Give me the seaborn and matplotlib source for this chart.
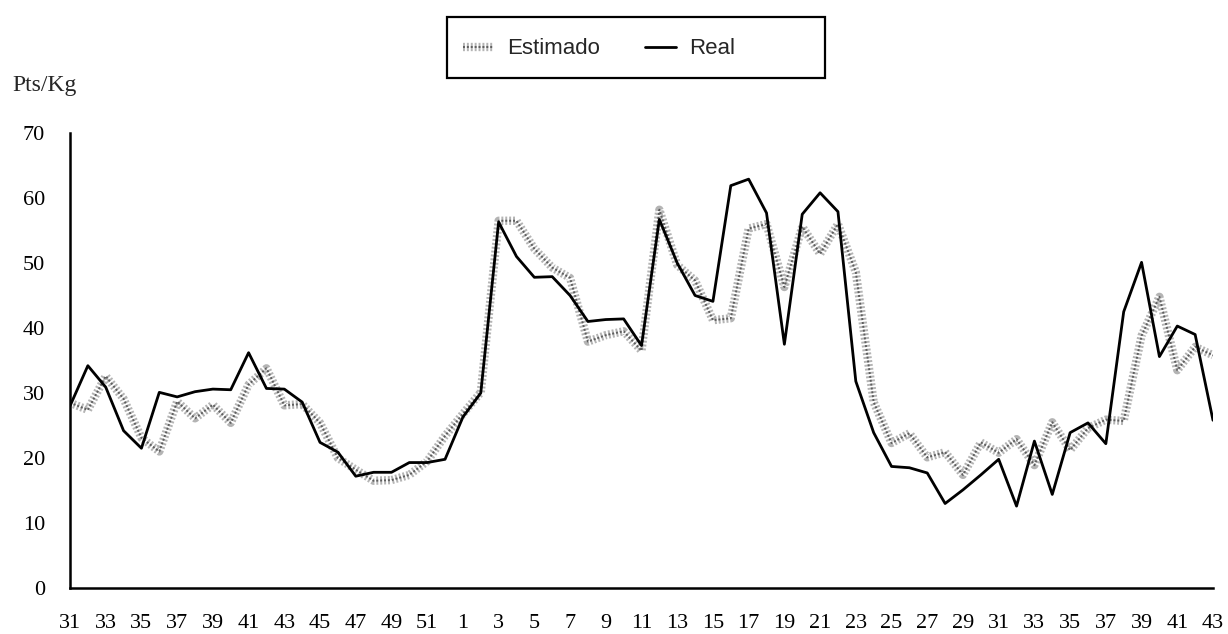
import matplotlib
matplotlib.use('Agg')
import matplotlib.pyplot as plt
import matplotlib.patheffects as pe
from matplotlib.patches import Rectangle
import seaborn as sns
import pandas as pd

# semanas (31 a 52 de un año, 1 a 43 del siguiente)
semanas = [31, 32, 33, 34, 35, 36, 37, 38, 39, 40, 41, 42, 43, 44, 45, 46, 47, 48, 49, 50, 51, 52,
           1, 2, 3, 4, 5, 6, 7, 8, 9, 10, 11, 12, 13, 14, 15, 16, 17, 18, 19, 20,
           21, 22, 23, 24, 25, 26, 27, 28, 29, 30, 31, 32, 33, 34, 35, 36, 37, 38, 39, 40,
           41, 42, 43]

real = [28, 34.2, 30.9, 24.2, 21.5, 30.1, 29.4, 30.2, 30.6, 30.5, 36.2, 30.7, 30.6, 28.6,
        22.4, 20.9, 17.2, 17.8, 17.8, 19.3, 19.3, 19.8, 26.3, 30.0, 56.3, 51.0, 47.8, 47.9,
        45.0, 41.0, 41.3, 41.4, 37.3, 56.7, 50.0, 45.0, 44.1, 61.9, 62.9, 57.7, 37.5, 57.5,
        60.8, 57.9, 31.8, 23.9, 18.7, 18.5, 17.7, 13.0, 15.1, 17.4, 19.8, 12.6, 22.6, 14.4,
        23.9, 25.4, 22.2, 42.5, 50.1, 35.6, 40.3, 39.0, 25.8]

estimado = [28.5, 27.4, 32.6, 29.1, 23.1, 21.0, 28.7, 26.1, 28.2, 25.4, 31.3, 33.8, 28.1,
            28.3, 25.4, 20.0, 18.2, 16.5, 16.6, 17.4, 19.5, 23.4, 26.8, 30.1, 56.5, 56.5,
            52.2, 49.3, 47.7, 37.9, 38.9, 39.5, 36.5, 58.2, 49.7, 47.3, 41.2, 41.5, 55.3,
            56.0, 46.3, 55.6, 51.4, 56.0, 48.6, 28.6, 22.3, 23.8, 20.1, 20.9, 17.4, 22.4,
            20.8, 22.9, 18.9, 25.5, 21.2, 24.6, 25.9, 25.7, 38.8, 44.8, 33.5, 37.1, 35.8]

y_ticks = [0, 10, 20, 30, 40, 50, 60, 70]

df = pd.DataFrame({'pos': range(len(semanas)), 'semana': semanas,
                   'Real': real, 'Estimado': estimado})

sns.set_style("white")
plt.rcParams['font.family'] = ['Liberation Serif', 'DejaVu Serif']

fig = plt.figure(figsize=(12.28, 6.34), dpi=100)
ax = fig.add_axes([70 / 1228, (634 - 588) / 634, (1213 - 70) / 1228, (588 - 133) / 634])

# serie estimada: trazo gris grueso punteado
sns.lineplot(data=df, x='pos', y='Estimado', ax=ax, color='#5e5e5e', linewidth=1.4,
             linestyle=(0, (1, 1)), label='Estimado',
             path_effects=[pe.Stroke(linewidth=6, foreground='#b4b4b4'), pe.Normal()])
sns.lineplot(data=df, x='pos', y='Real', ax=ax, color='black', linewidth=2.0, label='Real')

ax.set_xlim(0, len(semanas) - 1)
ax.set_ylim(0, 70)
ax.set_yticks(y_ticks)
ax.set_yticklabels([str(v) for v in y_ticks], fontsize=16)
ax.set_xticks(list(df['pos']))
ax.set_xticklabels([str(s) if i % 2 == 0 else '' for i, s in enumerate(semanas)], fontsize=16)
ax.set_xlabel('')
ax.set_ylabel('')

sns.despine(ax=ax)
for side in ['left', 'bottom']:
    ax.spines[side].set_linewidth(1.8)
    ax.spines[side].set_color('black')
ax.tick_params(axis='y', direction='out', length=10, width=1.8, pad=8, colors='black')
ax.tick_params(axis='x', direction='inout', length=11, width=1.4, pad=13, colors='black')

ax.get_legend().remove()
handles, labels = ax.get_legend_handles_labels()
fig.legend(handles, labels, loc='center left', bbox_to_anchor=(443 / 1228, 1 - 49 / 634),
           ncol=2, frameon=False, handlelength=1.4, handletextpad=0.6, columnspacing=2.0,
           prop={'family': 'Liberation Sans', 'size': 16})
fig.patches.append(Rectangle((447 / 1228, 1 - 78 / 634), 378 / 1228, 61 / 634,
                             transform=fig.transFigure, fill=False, edgecolor='black',
                             linewidth=1.6))

fig.text(12 / 1228, 1 - 85 / 634, 'Pts/Kg', fontsize=17, va='center', ha='left')

fig.savefig('out.png', dpi=100, facecolor='white')
plt.close(fig)
